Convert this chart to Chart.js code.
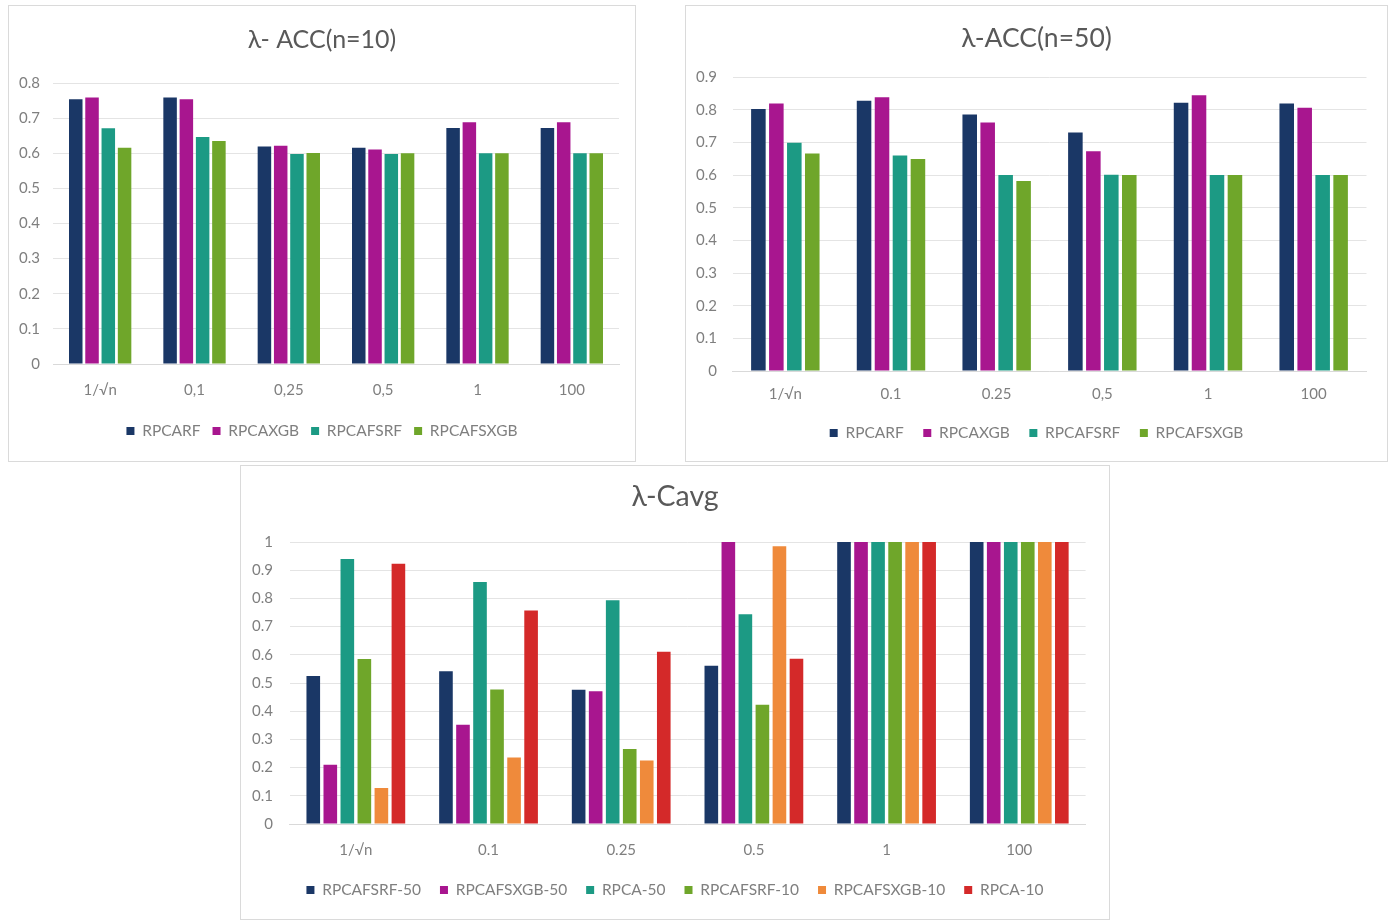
<!DOCTYPE html>
<html>
<head>
<meta charset="utf-8">
<script src="https://cdn.jsdelivr.net/npm/chart.js@4.4.1/dist/chart.umd.min.js"></script>
<style>
  body { margin: 0; background: #fff; width: 1395px; height: 924px; position: relative; overflow: hidden; }
  .panel { position: absolute; border: 1px solid #dadada; box-sizing: border-box; background: #fff; }
  .panel canvas { display: block; }
</style>
</head>
<body>
<div class="panel" style="left:8px;top:5px;width:628px;height:457px"><canvas id="acc10" width="626" height="455"></canvas></div>
<div class="panel" style="left:685px;top:5px;width:703px;height:457px"><canvas id="acc50" width="701" height="455"></canvas></div>
<div class="panel" style="left:240px;top:465px;width:870px;height:455px"><canvas id="cavg" width="868" height="453"></canvas></div>
<script>
// categorías (valores de lambda) tal como aparecen en cada gráfico
const lambdas10 = ['1/√n', '0,1', '0,25', '0,5', '1', '100'];
const lambdas50 = ['1/√n', '0.1', '0.25', '0,5', '1', '100'];
const lambdasCavg = ['1/√n', '0.1', '0.25', '0.5', '1', '100'];

// λ-ACC (n=10)
const rpcarf10    = [0.754, 0.759, 0.619, 0.616, 0.672, 0.672];
const rpcaxgb10   = [0.759, 0.754, 0.621, 0.611, 0.688, 0.688];
const rpcafsrf10  = [0.671, 0.646, 0.598, 0.598, 0.600, 0.600];
const rpcafsxgb10 = [0.616, 0.635, 0.601, 0.600, 0.600, 0.600];

// λ-ACC (n=50)
const rpcarf50    = [0.802, 0.827, 0.785, 0.730, 0.821, 0.819];
const rpcaxgb50   = [0.819, 0.838, 0.761, 0.673, 0.844, 0.806];
const rpcafsrf50  = [0.699, 0.660, 0.600, 0.601, 0.600, 0.600];
const rpcafsxgb50 = [0.666, 0.649, 0.582, 0.600, 0.600, 0.600];

// λ-Cavg
const cavgFsrf50  = [0.525, 0.542, 0.476, 0.561, 1, 1];
const cavgFsxgb50 = [0.210, 0.352, 0.471, 1.000, 1, 1];
const cavgRpca50  = [0.940, 0.858, 0.793, 0.744, 1, 1];
const cavgFsrf10  = [0.585, 0.477, 0.266, 0.423, 1, 1];
const cavgFsxgb10 = [0.128, 0.236, 0.225, 0.985, 1, 1];
const cavgRpca10  = [0.923, 0.757, 0.611, 0.586, 1, 1];

const NAVY = '#1a3766', MAGENTA = '#a8168f', TEAL = '#1c9a84',
      GREEN = '#6fa62a', ORANGE = '#ef8a3b', RED = '#d42929';
const FONT = 'Lato, "Open Sans", sans-serif';
const TXT = '#7f7f7f';

function barChart(id, cats, series, g) {
  return new Chart(document.getElementById(id), {
    type: 'bar',
    data: {
      labels: cats,
      datasets: series.map(s => ({
        label: s[0], data: s[1], backgroundColor: s[2], borderWidth: 0,
        categoryPercentage: g.catPct, barPercentage: g.barPct
      }))
    },
    options: {
      responsive: false,
      animation: false,
      layout: { padding: { left: 0, right: 0, top: 0, bottom: g.padBottom } },
      plugins: {
        title: {
          display: true, text: g.title, color: '#595959',
          font: { size: g.titleSize, family: FONT, weight: 'normal' },
          padding: { top: g.titleTop, bottom: g.titleBottom }
        },
        legend: {
          position: 'bottom',
          labels: { boxWidth: 8, boxHeight: 8, padding: g.legendGap, color: TXT, font: { size: 15.5, family: FONT } }
        },
        tooltip: { enabled: false }
      },
      scales: {
        x: {
          grid: { display: false },
          border: { display: true, color: '#d9d9d9' },
          ticks: { color: TXT, font: { size: 15, family: FONT }, padding: g.xPad },
          afterFit: s => { s.height = g.xHeight; }
        },
        y: {
          min: 0, max: g.max,
          grid: { color: '#e4e4e4', drawTicks: false },
          border: { display: false },
          ticks: { stepSize: 0.1, color: TXT, font: { size: 15, family: FONT }, padding: g.yPad,
                   callback: v => String(+v.toFixed(1)) },
          afterFit: s => { s.width = g.yWidth; }
        },
        // eje vacío a la derecha: solo reserva margen, así título y leyenda quedan centrados en el panel
        margen: {
          position: 'right',
          grid: { display: false }, border: { display: false }, ticks: { display: false },
          afterFit: s => { s.width = g.side; }
        }
      }
    }
  });
}

barChart('acc10', lambdas10, [
  ['RPCARF', rpcarf10, NAVY], ['RPCAXGB', rpcaxgb10, MAGENTA],
  ['RPCAFSRF', rpcafsrf10, TEAL], ['RPCAFSXGB', rpcafsxgb10, GREEN]
], { title: 'λ- ACC(n=10)', titleSize: 25, titleTop: 19, titleBottom: 28, max: 0.8,
     catPct: 0.69, barPct: 0.83, side: 16, padBottom: 12.25, legendGap: 12,
     xHeight: 47.25, xPad: 9, yWidth: 44, yPad: 13 });

barChart('acc50', lambdas50, [
  ['RPCARF', rpcarf50, NAVY], ['RPCAXGB', rpcaxgb50, MAGENTA],
  ['RPCAFSRF', rpcafsrf50, TEAL], ['RPCAFSXGB', rpcafsxgb50, GREEN]
], { title: 'λ-ACC(n=50)', titleSize: 26.5, titleTop: 16.1, titleBottom: 23.1, max: 0.9,
     catPct: 0.68, barPct: 0.81, side: 20.5, padBottom: 10.25, legendGap: 19.5,
     xHeight: 34.75, xPad: 6, yWidth: 46.5, yPad: 15.5 });

barChart('cavg', lambdasCavg, [
  ['RPCAFSRF-50', cavgFsrf50, NAVY], ['RPCAFSXGB-50', cavgFsxgb50, MAGENTA],
  ['RPCA-50', cavgRpca50, TEAL], ['RPCAFSRF-10', cavgFsrf10, GREEN],
  ['RPCAFSXGB-10', cavgFsxgb10, ORANGE], ['RPCA-10', cavgRpca10, RED]
], { title: 'λ-Cavg', titleSize: 28.5, titleTop: 13.9, titleBottom: 27.9, max: 1,
     catPct: 0.77, barPct: 0.8, side: 23.4, padBottom: 11.25, legendGap: 19,
     xHeight: 39.25, xPad: 9, yWidth: 48.5, yPad: 16.5 });
</script>
</body>
</html>
